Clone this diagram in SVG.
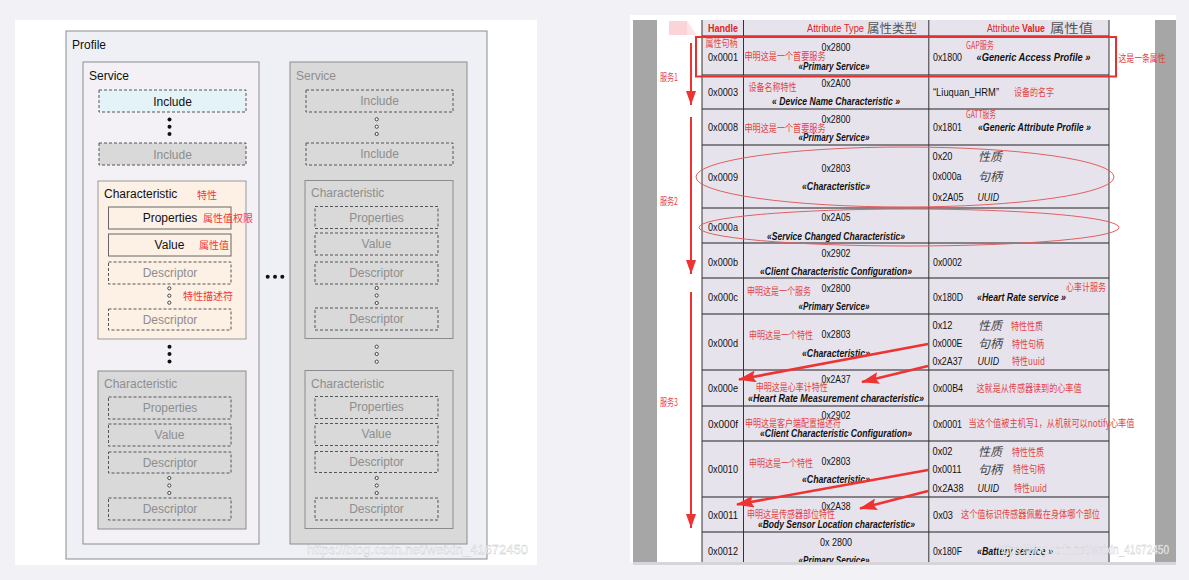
<svg xmlns="http://www.w3.org/2000/svg" width="1189" height="580" viewBox="0 0 1189 580">
<defs>
<style>
.lt{font-family:"Liberation Sans",Arial,sans-serif;font-size:12px;fill:#111}
.g{fill:#8e8e8e}
.c{text-anchor:middle}
.box{stroke:#8c8c8c;stroke-width:1}
.dash{fill:none;stroke:#555;stroke-width:1;stroke-dasharray:3 2}
.dashg{fill:#d9d9d9;stroke:#555;stroke-width:1;stroke-dasharray:3 2}
.sol{fill:none;stroke:#666;stroke-width:1}
.bd{fill:#111}
.hd{fill:#fff;stroke:#333;stroke-width:0.9}
.rdl{font-family:"Noto Sans CJK SC",sans-serif;font-size:10px;fill:#f03838}
.rd{font-family:"Noto Sans CJK SC",sans-serif;font-size:10px;fill:#e34444}
.tb{font-family:"Liberation Sans Narrow","Liberation Sans",Arial,sans-serif;font-size:11.5px;fill:#111}
.bi{font-weight:bold;font-style:italic}
.hr{font-family:"Liberation Sans Narrow","Liberation Sans",Arial,sans-serif;font-size:11.5px;fill:#e02424}
.cn{font-family:"Noto Sans CJK SC",sans-serif;font-size:12px;fill:#555}
.it{font-family:"Noto Sans CJK SC",sans-serif;font-size:12px;font-style:italic;fill:#444}
.hl{stroke:#222;stroke-width:1.2}
.vl{stroke:#333;stroke-width:1}
.wm{font-family:"Liberation Sans",Arial,sans-serif;font-size:13px;fill:#fff;stroke:#c4c4c8;stroke-width:0.35}
.arr{stroke:#ee3333;fill:none}
</style>
<marker id="hv" markerUnits="userSpaceOnUse" markerWidth="14" markerHeight="10" refX="14" refY="5" orient="auto"><path d="M0,0 L14,5 L0,10 z" fill="#ee3333"/></marker>
<marker id="hd2" markerUnits="userSpaceOnUse" markerWidth="18" markerHeight="12" refX="17" refY="6" orient="auto"><path d="M0,0 L18,6 L0,12 L3,6 z" fill="#ee3333"/></marker>
<clipPath id="tclip"><rect x="600" y="15" width="589" height="547"/></clipPath>
</defs>

<rect x="0" y="0" width="1189" height="580" fill="#f1f1f6"/>
<rect x="15" y="20" width="522" height="545" fill="#ffffff"/>

<!-- LEFT DIAGRAM -->
<g id="profile">
<rect class="box" x="66" y="31" width="421" height="528" fill="#eef0f6"/>
<text class="lt" x="72" y="49">Profile</text>
</g>

<g id="service1">
<rect class="box" x="83" y="62" width="176" height="482" fill="#f3f1f5"/>
<text class="lt" x="89" y="80">Service</text>
</g>
<g id="s1-include1">
<rect class="dash" x="99" y="90" width="147" height="22" style="fill:#e3f3f8"/>
<text class="lt c" x="172.5" y="105.5">Include</text>
</g>
<g id="s1-dots1"><circle class="bd" cx="169.5" cy="119.5" r="2"/><circle class="bd" cx="169.5" cy="126.8" r="2"/><circle class="bd" cx="169.5" cy="134" r="2"/></g>
<g id="s1-include2">
<rect class="dashg" x="99" y="143" width="147" height="22"/>
<text class="lt c g" x="172.5" y="158.5">Include</text>
</g>
<g id="s1-char1">
<rect x="98" y="181" width="148" height="158" fill="#fdf0e5" stroke="#999"/>
<text class="lt" x="104" y="198">Characteristic</text>
<text class="rdl" x="197" y="199">特性</text>
</g>
<g id="s1-c1-props">
<rect class="sol" x="108.5" y="207" width="122.5" height="22"/>
<text class="lt c" x="170" y="222">Properties</text>
<text class="rdl" x="203" y="222">属性值权限</text>
</g>
<g id="s1-c1-value">
<rect class="sol" x="108.5" y="234" width="122.5" height="22"/>
<text class="lt c" x="169.5" y="248.5">Value</text>
<text class="rdl" x="199" y="249">属性值</text>
</g>
<g id="s1-c1-desc1">
<rect class="dash" x="108.5" y="262" width="122.5" height="22"/>
<text class="lt c g" x="170" y="276.5">Descriptor</text>
</g>
<g id="s1-c1-dots"><circle class="hd" cx="169.3" cy="288.3" r="1.6"/><circle class="hd" cx="169.3" cy="295.7" r="1.6"/><circle class="hd" cx="169.3" cy="302.7" r="1.6"/>
<text class="rdl" x="183" y="299.5">特性描述符</text></g>
<g id="s1-c1-desc2">
<rect class="dash" x="108.5" y="309" width="122.5" height="21"/>
<text class="lt c g" x="170" y="323.5">Descriptor</text>
</g>
<g id="s1-dots2"><circle class="bd" cx="169.5" cy="346.8" r="2"/><circle class="bd" cx="169.5" cy="354" r="2"/><circle class="bd" cx="169.5" cy="361.5" r="2"/></g>
<g id="s1-char2">
<rect x="98" y="371" width="148" height="158" fill="#d9d9d9" stroke="#8c8c8c"/>
<text class="lt g" x="104" y="388">Characteristic</text>
<rect class="dash" x="108.5" y="397" width="122.5" height="22"/>
<text class="lt c g" x="170" y="411.5">Properties</text>
<rect class="dash" x="108.5" y="424" width="122.5" height="22"/>
<text class="lt c g" x="169.5" y="438.5">Value</text>
<rect class="dash" x="108.5" y="452" width="122.5" height="21"/>
<text class="lt c g" x="170" y="466.5">Descriptor</text>
<circle class="hd" cx="169.3" cy="478" r="1.6"/><circle class="hd" cx="169.3" cy="485.5" r="1.6"/><circle class="hd" cx="169.3" cy="493" r="1.6"/>
<rect class="dash" x="108.5" y="498" width="122.5" height="22"/>
<text class="lt c g" x="170" y="513">Descriptor</text>
</g>

<g id="between-dots"><circle class="bd" cx="267.7" cy="276.7" r="2"/><circle class="bd" cx="275" cy="276.7" r="2"/><circle class="bd" cx="282.3" cy="276.7" r="2"/></g>

<g id="service2">
<rect class="box" x="290" y="62" width="177" height="482" fill="#d9d9d9"/>
<text class="lt g" x="296" y="80">Service</text>
<rect class="dash" x="306" y="90" width="147" height="22"/>
<text class="lt c g" x="379.5" y="105">Include</text>
<circle class="hd" cx="376.7" cy="119.3" r="1.6"/><circle class="hd" cx="376.7" cy="126.7" r="1.6"/><circle class="hd" cx="376.7" cy="134" r="1.6"/>
<rect class="dash" x="306" y="143" width="147" height="22"/>
<text class="lt c g" x="379.5" y="158">Include</text>
</g>
<g id="s2-char1">
<rect x="305" y="180.5" width="148" height="158" fill="#d9d9d9" stroke="#8c8c8c"/>
<text class="lt g" x="311" y="197">Characteristic</text>
<rect class="dash" x="315" y="206.5" width="123" height="22"/>
<text class="lt c g" x="376.5" y="221.5">Properties</text>
<rect class="dash" x="315" y="233" width="123" height="22"/>
<text class="lt c g" x="376.5" y="248">Value</text>
<rect class="dash" x="315" y="262" width="123" height="22"/>
<text class="lt c g" x="376.5" y="276.5">Descriptor</text>
<circle class="hd" cx="376.7" cy="288" r="1.6"/><circle class="hd" cx="376.7" cy="295.5" r="1.6"/><circle class="hd" cx="376.7" cy="303" r="1.6"/>
<rect class="dash" x="315" y="308" width="123" height="22"/>
<text class="lt c g" x="376.5" y="323">Descriptor</text>
</g>
<g id="s2-dots"><circle class="hd" cx="376.7" cy="346.7" r="1.6"/><circle class="hd" cx="376.7" cy="354" r="1.6"/><circle class="hd" cx="376.7" cy="361.7" r="1.6"/></g>
<g id="s2-char2">
<rect x="305" y="370.5" width="148" height="158" fill="#d9d9d9" stroke="#8c8c8c"/>
<text class="lt g" x="311" y="388">Characteristic</text>
<rect class="dash" x="315" y="396.5" width="123" height="22"/>
<text class="lt c g" x="376.5" y="411">Properties</text>
<rect class="dash" x="315" y="423.5" width="123" height="22"/>
<text class="lt c g" x="376.5" y="438">Value</text>
<rect class="dash" x="315" y="451.5" width="123" height="21"/>
<text class="lt c g" x="376.5" y="466">Descriptor</text>
<circle class="hd" cx="376.7" cy="478" r="1.6"/><circle class="hd" cx="376.7" cy="485.5" r="1.6"/><circle class="hd" cx="376.7" cy="493" r="1.6"/>
<rect class="dash" x="315" y="498" width="123" height="22"/>
<text class="lt c g" x="376.5" y="512.5">Descriptor</text>
</g>
<text class="wm" x="307" y="554" textLength="221" lengthAdjust="spacingAndGlyphs">https://blog.csdn.net/weixin_41672450</text>

<!-- RIGHT TABLE -->
<rect x="630" y="15" width="546" height="547" fill="#ffffff"/>
<rect x="633" y="20" width="24" height="542" fill="#a6a6a6"/>
<rect x="1155" y="20" width="21" height="542" fill="#a6a6a6"/>
<rect x="633" y="562" width="543" height="3" fill="#d6d6da"/>
<rect x="669" y="21" width="18" height="14" fill="#fad4d8"/>
<polygon points="687,21 697,35 687,35" fill="#fce4e6"/>

<g id="table-grid">
<rect x="702" y="20" width="407" height="542" fill="#e7e3ed"/>
<line class="hl" x1="702" y1="36" x2="1109" y2="36"/>
<line class="hl" x1="702" y1="75" x2="1109" y2="75"/>
<line class="hl" x1="702" y1="109" x2="1109" y2="109"/>
<line class="hl" x1="702" y1="145" x2="1109" y2="145"/>
<line class="hl" x1="702" y1="208" x2="1109" y2="208"/>
<line class="hl" x1="702" y1="243" x2="1109" y2="243"/>
<line class="hl" x1="702" y1="278" x2="1109" y2="278"/>
<line class="hl" x1="702" y1="314" x2="1109" y2="314"/>
<line class="hl" x1="702" y1="370" x2="1109" y2="370"/>
<line class="hl" x1="702" y1="406" x2="1109" y2="406"/>
<line class="hl" x1="702" y1="441" x2="1109" y2="441"/>
<line class="hl" x1="702" y1="497" x2="1109" y2="497"/>
<line class="hl" x1="702" y1="532" x2="1109" y2="532"/>
<line class="vl" x1="702" y1="20" x2="702" y2="562"/>
<line class="vl" x1="743.5" y1="20" x2="743.5" y2="562"/>
<line class="vl" x1="928.8" y1="20" x2="928.8" y2="562"/>
<line class="vl" x1="1109" y1="20" x2="1109" y2="562"/>
</g>

<g id="header">
<text class="hr" x="708" y="32" font-weight="bold" textLength="30" lengthAdjust="spacingAndGlyphs">Handle</text>
<text class="hr" x="807" y="32" textLength="57" lengthAdjust="spacingAndGlyphs">Attribute Type</text>
<text class="cn" x="867" y="33" textLength="50" lengthAdjust="spacingAndGlyphs">属性类型</text>
<text class="hr" x="987" y="32" textLength="58" lengthAdjust="spacingAndGlyphs">Attribute <tspan font-weight="bold">Value</tspan></text>
<text class="cn" x="1050" y="33" textLength="43" lengthAdjust="spacingAndGlyphs">属性值</text>
</g>

<g id="row-0001">
<text class="rd" x="705.5" y="47" textLength="32" lengthAdjust="spacingAndGlyphs">属性句柄</text>
<text class="tb" x="708" y="61" textLength="30" lengthAdjust="spacingAndGlyphs">0x0001</text>
<text class="tb" x="821.5" y="51" textLength="29" lengthAdjust="spacingAndGlyphs">0x2800</text>
<text class="rd" x="744.5" y="60" textLength="81" lengthAdjust="spacingAndGlyphs">申明这是一个首要服务</text>
<text class="tb bi c" x="834" y="69.5" textLength="71" lengthAdjust="spacingAndGlyphs">«Primary Service»</text>
<text class="tb" x="933" y="61" textLength="29" lengthAdjust="spacingAndGlyphs">0x1800</text>
<text class="rd" x="966" y="49" font-size="9" textLength="28" lengthAdjust="spacingAndGlyphs">GAP服务</text>
<text class="tb bi" x="976.5" y="61" textLength="114" lengthAdjust="spacingAndGlyphs">«Generic Access Profile »</text>
<text class="rd" x="1118.5" y="62" textLength="47" lengthAdjust="spacingAndGlyphs">这是一条属性</text>
<rect x="696" y="37" width="420" height="39.5" fill="none" stroke="#e83030" stroke-width="2"/>
</g>

<g id="row-0003">
<text class="tb" x="708" y="96" textLength="30" lengthAdjust="spacingAndGlyphs">0x0003</text>
<text class="tb" x="821.5" y="87" textLength="29" lengthAdjust="spacingAndGlyphs">0x2A00</text>
<text class="rd" x="748.5" y="90.5" textLength="48" lengthAdjust="spacingAndGlyphs">设备名称特性</text>
<text class="tb bi" x="772" y="105" textLength="128" lengthAdjust="spacingAndGlyphs">« Device Name Characteristic »</text>
<text class="tb" x="933" y="96" textLength="66" lengthAdjust="spacingAndGlyphs">“Liuquan_HRM”</text>
<text class="rd" x="1014" y="96" textLength="40" lengthAdjust="spacingAndGlyphs">设备的名字</text>
</g>

<g id="row-0008">
<text class="tb" x="708" y="131" textLength="30" lengthAdjust="spacingAndGlyphs">0x0008</text>
<text class="tb" x="821.5" y="123" textLength="29" lengthAdjust="spacingAndGlyphs">0x2800</text>
<text class="rd" x="744.5" y="132" textLength="81" lengthAdjust="spacingAndGlyphs">申明这是一个首要服务</text>
<text class="tb bi c" x="834" y="141" textLength="71" lengthAdjust="spacingAndGlyphs">«Primary Service»</text>
<text class="tb" x="933" y="131" textLength="29" lengthAdjust="spacingAndGlyphs">0x1801</text>
<text class="rd" x="966" y="118" font-size="9" textLength="30" lengthAdjust="spacingAndGlyphs">GATT服务</text>
<text class="tb bi" x="978" y="131" textLength="113" lengthAdjust="spacingAndGlyphs">«Generic Attribute Profile »</text>
</g>

<g id="row-0009">
<text class="tb" x="708" y="181" textLength="30" lengthAdjust="spacingAndGlyphs">0x0009</text>
<text class="tb" x="821.5" y="172" textLength="29" lengthAdjust="spacingAndGlyphs">0x2803</text>
<text class="tb bi c" x="836" y="189.5" textLength="68" lengthAdjust="spacingAndGlyphs">«Characteristic»</text>
<text class="tb" x="932.5" y="160" textLength="20" lengthAdjust="spacingAndGlyphs">0x20</text>
<text class="it" x="978" y="161">性质</text>
<text class="tb" x="932.5" y="180" textLength="29" lengthAdjust="spacingAndGlyphs">0x000a</text>
<text class="it" x="978" y="181">句柄</text>
<text class="tb" x="932.5" y="201" textLength="31" lengthAdjust="spacingAndGlyphs">0x2A05</text>
<text class="tb" x="977.5" y="201" font-style="italic" textLength="21.5" lengthAdjust="spacingAndGlyphs">UUID</text>
<ellipse cx="905" cy="177" rx="209" ry="30" fill="none" stroke="#e06060" stroke-width="1"/>
</g>

<g id="row-000a">
<text class="tb" x="708" y="231" textLength="30" lengthAdjust="spacingAndGlyphs">0x000a</text>
<text class="tb" x="821.5" y="221" textLength="29" lengthAdjust="spacingAndGlyphs">0x2A05</text>
<text class="tb bi" x="767" y="239.5" textLength="138" lengthAdjust="spacingAndGlyphs">«Service Changed Characteristic»</text>
<ellipse cx="909" cy="227.5" rx="210" ry="18.5" fill="none" stroke="#e06060" stroke-width="1"/>
</g>

<g id="row-000b">
<text class="tb" x="708" y="266" textLength="30" lengthAdjust="spacingAndGlyphs">0x000b</text>
<text class="tb" x="821.5" y="257" textLength="29" lengthAdjust="spacingAndGlyphs">0x2902</text>
<text class="tb bi" x="760" y="275" textLength="152" lengthAdjust="spacingAndGlyphs">«Client Characteristic Configuration»</text>
<text class="tb" x="933" y="266" textLength="29" lengthAdjust="spacingAndGlyphs">0x0002</text>
</g>

<g id="row-000c">
<text class="tb" x="708" y="301" textLength="30" lengthAdjust="spacingAndGlyphs">0x000c</text>
<text class="rd" x="747" y="294.5" textLength="64" lengthAdjust="spacingAndGlyphs">申明这是一个服务</text>
<text class="tb" x="821.5" y="292" textLength="29" lengthAdjust="spacingAndGlyphs">0x2800</text>
<text class="tb bi c" x="834" y="310" textLength="71" lengthAdjust="spacingAndGlyphs">«Primary Service»</text>
<text class="tb" x="933" y="301" textLength="30" lengthAdjust="spacingAndGlyphs">0x180D</text>
<text class="tb bi" x="977" y="301" textLength="89" lengthAdjust="spacingAndGlyphs">«Heart Rate service »</text>
<text class="rd" x="1066" y="291" textLength="40" lengthAdjust="spacingAndGlyphs">心率计服务</text>
</g>

<g id="row-000d">
<text class="tb" x="708" y="347" textLength="30" lengthAdjust="spacingAndGlyphs">0x000d</text>
<text class="rd" x="749" y="338.5" textLength="64" lengthAdjust="spacingAndGlyphs">申明这是一个特性</text>
<text class="tb" x="821.5" y="338" textLength="29" lengthAdjust="spacingAndGlyphs">0x2803</text>
<text class="tb bi c" x="836" y="356.5" textLength="68" lengthAdjust="spacingAndGlyphs">«Characteristic»</text>
<text class="tb" x="932.5" y="329" textLength="20" lengthAdjust="spacingAndGlyphs">0x12</text>
<text class="it" x="978" y="330">性质</text>
<text class="rd" x="1011" y="330" textLength="32" lengthAdjust="spacingAndGlyphs">特性性质</text>
<text class="tb" x="932.5" y="347" textLength="30" lengthAdjust="spacingAndGlyphs">0x000E</text>
<text class="it" x="978" y="348">句柄</text>
<text class="rd" x="1012" y="348" textLength="32" lengthAdjust="spacingAndGlyphs">特性句柄</text>
<text class="tb" x="932.5" y="365" textLength="30" lengthAdjust="spacingAndGlyphs">0x2A37</text>
<text class="tb" x="977.5" y="365" font-style="italic" textLength="21.5" lengthAdjust="spacingAndGlyphs">UUID</text>
<text class="rd" x="1012" y="365" textLength="33" lengthAdjust="spacingAndGlyphs">特性uuid</text>
</g>

<g id="row-000e">
<text class="tb" x="708" y="392" textLength="30" lengthAdjust="spacingAndGlyphs">0x000e</text>
<text class="tb" x="821.5" y="383" textLength="29" lengthAdjust="spacingAndGlyphs">0x2A37</text>
<text class="rd" x="755.7" y="390.5" textLength="72" lengthAdjust="spacingAndGlyphs">申明这是心率计特性</text>
<text class="tb bi" x="748" y="401.5" textLength="176" lengthAdjust="spacingAndGlyphs">«Heart Rate Measurement characteristic»</text>
<text class="tb" x="933" y="392" textLength="30" lengthAdjust="spacingAndGlyphs">0x00B4</text>
<text class="rd" x="976.5" y="391.5" textLength="105" lengthAdjust="spacingAndGlyphs">这就是从传感器读到的心率值</text>
</g>

<g id="row-000f">
<text class="tb" x="708" y="428" textLength="30" lengthAdjust="spacingAndGlyphs">0x000f</text>
<text class="tb" x="821.5" y="419" textLength="29" lengthAdjust="spacingAndGlyphs">0x2902</text>
<text class="rd" x="745" y="427" textLength="96" lengthAdjust="spacingAndGlyphs">申明这是客户端配置描述符</text>
<text class="tb bi" x="760" y="437" textLength="152" lengthAdjust="spacingAndGlyphs">«Client Characteristic Configuration»</text>
<text class="tb" x="933" y="428" textLength="29" lengthAdjust="spacingAndGlyphs">0x0001</text>
<text class="rd" x="968.5" y="427" textLength="166" lengthAdjust="spacingAndGlyphs">当这个值被主机写1，从机就可以notify心率值</text>
</g>

<g id="row-0010">
<text class="tb" x="708" y="473" textLength="30" lengthAdjust="spacingAndGlyphs">0x0010</text>
<text class="tb" x="821.5" y="465" textLength="29" lengthAdjust="spacingAndGlyphs">0x2803</text>
<text class="rd" x="749" y="467" textLength="64" lengthAdjust="spacingAndGlyphs">申明这是一个特性</text>
<text class="tb bi c" x="836" y="483" textLength="68" lengthAdjust="spacingAndGlyphs">«Characteristic»</text>
<text class="tb" x="932.5" y="455" textLength="20" lengthAdjust="spacingAndGlyphs">0x02</text>
<text class="it" x="978" y="456">性质</text>
<text class="rd" x="1012" y="456" textLength="32" lengthAdjust="spacingAndGlyphs">特性性质</text>
<text class="tb" x="932.5" y="473" textLength="29" lengthAdjust="spacingAndGlyphs">0x0011</text>
<text class="it" x="978" y="474">句柄</text>
<text class="rd" x="1013" y="473" textLength="32" lengthAdjust="spacingAndGlyphs">特性句柄</text>
<text class="tb" x="932.5" y="492" textLength="31" lengthAdjust="spacingAndGlyphs">0x2A38</text>
<text class="tb" x="977.5" y="492" font-style="italic" textLength="21.5" lengthAdjust="spacingAndGlyphs">UUID</text>
<text class="rd" x="1014" y="492" textLength="33" lengthAdjust="spacingAndGlyphs">特性uuid</text>
</g>

<g id="row-0011">
<text class="tb" x="708" y="519" textLength="30" lengthAdjust="spacingAndGlyphs">0x0011</text>
<text class="tb" x="821.5" y="510" textLength="29" lengthAdjust="spacingAndGlyphs">0x2A38</text>
<text class="rd" x="747" y="517.5" textLength="88" lengthAdjust="spacingAndGlyphs">申明这是传感器部位特性</text>
<text class="tb bi" x="758" y="527.5" textLength="157" lengthAdjust="spacingAndGlyphs">«Body Sensor Location characteristic»</text>
<text class="tb" x="933" y="519" textLength="20" lengthAdjust="spacingAndGlyphs">0x03</text>
<text class="rd" x="961" y="518" textLength="139" lengthAdjust="spacingAndGlyphs">这个值标识传感器佩戴在身体哪个部位</text>
</g>

<g id="row-0012" clip-path="url(#tclip)">
<text class="tb" x="708" y="555" textLength="30" lengthAdjust="spacingAndGlyphs">0x0012</text>
<text class="tb" x="820" y="546" textLength="32" lengthAdjust="spacingAndGlyphs">0x 2800</text>
<text class="tb bi c" x="834" y="564" textLength="71" lengthAdjust="spacingAndGlyphs">«Primary Service»</text>
<text class="tb" x="933" y="555" textLength="29" lengthAdjust="spacingAndGlyphs">0x180F</text>
<text class="tb bi" x="977" y="555" textLength="76" lengthAdjust="spacingAndGlyphs">«Battery service »</text>
</g>

<g id="service-labels">
<text class="rd" x="660" y="81" textLength="18" lengthAdjust="spacingAndGlyphs">服务1</text>
<text class="rd" x="660" y="205" textLength="18" lengthAdjust="spacingAndGlyphs">服务2</text>
<text class="rd" x="660" y="406" textLength="18" lengthAdjust="spacingAndGlyphs">服务3</text>
</g>

<g id="connectors">
<line class="arr" x1="691" y1="43" x2="691" y2="105" stroke-width="2" marker-end="url(#hv)"/>
<line class="arr" x1="691" y1="117" x2="691" y2="274" stroke-width="2" marker-end="url(#hv)"/>
<line class="arr" x1="691" y1="292" x2="691" y2="528" stroke-width="2" marker-end="url(#hv)"/>
<line class="arr" x1="928" y1="344" x2="739" y2="379.5" stroke-width="2.6" marker-end="url(#hd2)"/>
<line class="arr" x1="928" y1="366" x2="862" y2="382" stroke-width="2.6" marker-end="url(#hd2)"/>
<line class="arr" x1="928" y1="470" x2="737" y2="504.5" stroke-width="2.6" marker-end="url(#hd2)"/>
<line class="arr" x1="928" y1="491" x2="860" y2="508.5" stroke-width="2.6" marker-end="url(#hd2)"/>
</g>

<text class="wm" x="998" y="554" textLength="171" lengthAdjust="spacingAndGlyphs">https://blog.csdn.net/weixin_41672450</text>
</svg>
